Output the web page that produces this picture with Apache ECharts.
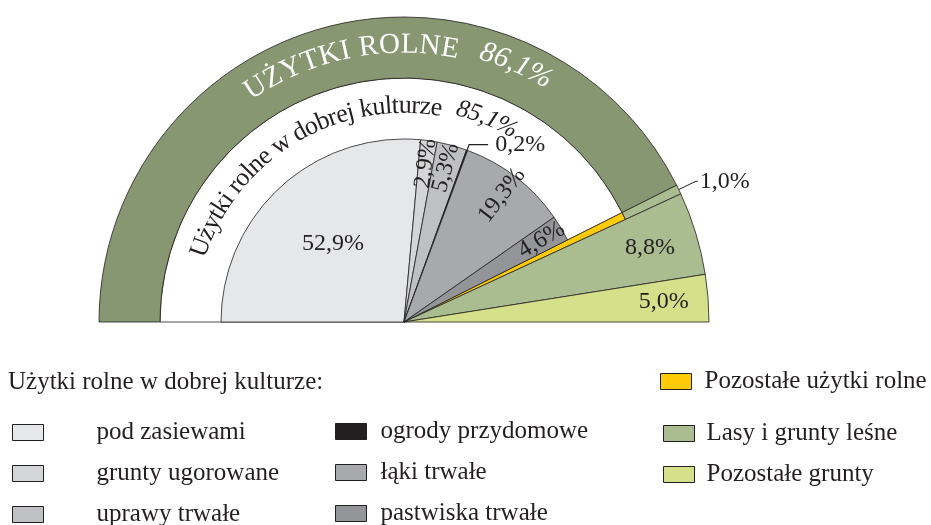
<!DOCTYPE html>
<html><head><meta charset="utf-8">
<script src="https://cdn.jsdelivr.net/npm/echarts@6/dist/echarts.min.js"></script>
<style>html,body{margin:0;padding:0;background:#fff}#c{width:931px;height:525px}</style>
</head><body><div id="c"></div>
<script>
// ---- data ----
const innerNames = ['pod zasiewami', 'grunty ugorowane', 'uprawy trwałe', 'ogrody przydomowe', 'łąki trwałe', 'pastwiska trwałe'];
const innerValues = [52.9, 2.9, 5.3, 0.2, 19.3, 4.6];
const otherAgriName = 'Pozostałe użytki rolne';
const otherAgriValue = 1.0;
const outerNames = ['Lasy i grunty leśne', 'Pozostałe grunty'];
const outerValues = [8.8, 5.0];
const bandTitle = 'UŻYTKI ROLNE';
const bandValueText = '86,1%';
const goodTitle = 'Użytki rolne w dobrej kulturze';
const goodValueText = '85,1%';
const legendTitle = 'Użytki rolne w dobrej kulturze:';

// ---- styles ----
const innerColors = ['#e6e7e8', '#d4d5d7', '#bfc0c3', '#231f20', '#a7a9ac', '#939598'];
const yellow = '#ffca08';
const bandColor = '#879771';
const outerColors = ['#a9bd90', '#d4e08a'];
const ink = '#231f20';
const FONT = "'Liberation Serif', 'DejaVu Serif', serif";
const CX = 404, CY = 322;

const sum = a => a.reduce((s, v) => s + v, 0);
const innerSum = sum(innerValues);
const total = innerSum + otherAgriValue + sum(outerValues);
const fmt = v => v.toFixed(1).replace('.', ',') + '%';

function blank(v, i) {
  return { value: v, name: '_blank' + i, itemStyle: { color: 'rgba(0,0,0,0)', borderWidth: 0 }, label: { show: false }, labelLine: { show: false } };
}
const base = {
  type: 'pie', center: [CX, CY], startAngle: 180, endAngle: 0, clockwise: true,
  silent: true, animation: false, avoidLabelOverlap: false,
  labelLayout: { hideOverlap: false },
  emphasis: { disabled: true }, label: { show: false }, labelLine: { show: false },
  itemStyle: { borderColor: ink, borderWidth: 0.8 }
};
const labelText = { color: ink, fontFamily: FONT, fontSize: 24 };

// white "good culture" area + yellow slice
const seriesWhite = Object.assign({}, base, {
  radius: [0, 244], z: 1,
  data: [
    { value: innerSum, name: '_white', itemStyle: { color: '#ffffff' } },
    { value: otherAgriValue, name: otherAgriName, itemStyle: { color: yellow } },
    blank(total - innerSum - otherAgriValue, 1)
  ]
});
// inner slices
const seriesInner = Object.assign({}, base, {
  radius: [0, 183],
  data: innerValues.map((v, i) => {
    const d = { value: v, name: innerNames[i], itemStyle: { color: innerColors[i] } };
    if (i === 3) {
      d.label = Object.assign({ show: true, position: 'outside', formatter: () => fmt(v), distanceToLabelLine: 7 }, labelText);
      d.labelLine = { show: true, showAbove: true, length: 6, length2: 19, smooth: false, lineStyle: { color: ink, width: 1.2 } };
    }
    return d;
  }).concat([blank(total - innerSum, 2)])
});
// band
const seriesBand = Object.assign({}, base, {
  radius: [244, 305],
  data: [
    { value: innerSum, name: '_band', itemStyle: { color: bandColor } },
    { value: otherAgriValue, name: '_strip', itemStyle: { color: outerColors[0] },
      label: Object.assign({ show: true, position: 'outside', formatter: () => fmt(otherAgriValue), distanceToLabelLine: 2 }, labelText),
      labelLine: { show: true, showAbove: true, length: 19, length2: 2, smooth: false, lineStyle: { color: ink, width: 1 } } },
    blank(total - innerSum - otherAgriValue, 3)
  ]
});
// outer land
const seriesOuter = Object.assign({}, base, {
  radius: [0, 305],
  data: [blank(innerSum + otherAgriValue, 4)].concat(outerValues.map((v, i) => ({ value: v, name: outerNames[i], itemStyle: { color: outerColors[i] } })))
});

// transparent label-only series (label placed at the middle of [r0, r])
function labelSeries(r0, r1, values, showIdx, rotate, key) {
  return Object.assign({}, base, {
    radius: [r0, r1], z: 5,
    itemStyle: { color: 'rgba(0,0,0,0)', borderWidth: 0 },
    data: values.map((v, i) => ({
      value: v, name: key + i,
      label: showIdx.indexOf(i) >= 0 ? Object.assign({ show: true, position: 'inside', rotate: rotate, formatter: () => fmt(v) }, labelText) : { show: false }
    }))
  });
}
const innerWithRest = innerValues.concat([total - innerSum]);
const outerWithRest = [innerSum + otherAgriValue].concat(outerValues);
const labelSeriesList = [
  labelSeries(125, 189, innerWithRest, [1, 4], 'radial', '_la'),
  labelSeries(125, 189, innerWithRest, [2, 5], 'radial', '_lb'),
  labelSeries(0, 205, innerWithRest, [0], 0, '_lc'),
  labelSeries(203, 305, outerWithRest, [1], 0, '_ld'),
  labelSeries(210, 305, outerWithRest, [2], 0, '_le')
];

// curved texts
function arcText(str, font, color, r, a0, a1) {
  const ctx = document.createElement('canvas').getContext('2d');
  ctx.font = font;
  const chars = Array.from(str);
  const ws = chars.map(c => ctx.measureText(c).width);
  const tot = sum(ws);
  const span = (a0 - a1) * Math.PI / 180 * r;
  const extra = chars.length > 1 ? (span - tot) / (chars.length - 1) : 0;
  let acc = 0; const els = [];
  chars.forEach((c, i) => {
    const s = acc + ws[i] / 2;
    const ang = a0 - s / r * 180 / Math.PI;
    const rad = ang * Math.PI / 180;
    if (c !== ' ') els.push({
      type: 'text', x: CX + r * Math.cos(rad), y: CY - r * Math.sin(rad),
      rotation: (ang - 90) * Math.PI / 180, silent: true, z: 100,
      style: { text: c, font: font, fill: color, align: 'center', verticalAlign: 'middle', textAlign: 'center', textVerticalAlign: 'middle' }
    });
    acc += ws[i] + extra;
  });
  return els;
}
const graphics = [].concat(
  arcText(bandTitle, "29px 'Liberation Serif'", '#ffffff', 277, 124.5, 78.6),
  arcText(bandValueText, "italic 29px 'Liberation Serif'", '#ffffff', 281, 74.2, 58.7),
  arcText(goodTitle, "26px 'Liberation Serif'", ink, 216, 162.3, 79.8),
  arcText(goodValueText, "italic 25px 'Liberation Serif'", ink, 220, 76.1, 59.5)
);

const legendCommon = {
  orient: 'vertical', icon: 'rect', itemWidth: 31, itemHeight: 16,
  selectedMode: false, padding: 0, height: 200,
  itemStyle: { borderColor: ink, borderWidth: 1 },
  textStyle: { color: ink, fontFamily: FONT, fontSize: 25 }
};
const mkLegend = (data, left, top, pad) => Object.assign({}, legendCommon, {
  data: data, left: left, top: top, itemGap: 16,
  textStyle: Object.assign({}, legendCommon.textStyle, { padding: [0, 0, 0, pad] })
});

const chart = echarts.init(document.getElementById('c'), null, { renderer: 'canvas' });
chart.setOption({
  animation: false,
  title: { text: legendTitle, left: 8, top: 370, padding: 0, textStyle: { color: ink, fontFamily: FONT, fontSize: 25, fontWeight: 'normal' } },
  legend: [
    mkLegend(innerNames.slice(0, 3), 12, 420, 48),
    mkLegend(innerNames.slice(3), 335, 419, 9),
    mkLegend([otherAgriName], 660, 369, 8),
    mkLegend(outerNames, 663, 421, 7)
  ],
  series: [seriesWhite, seriesInner, seriesBand, seriesOuter].concat(labelSeriesList),
  graphic: graphics
});
</script>
</body></html>
